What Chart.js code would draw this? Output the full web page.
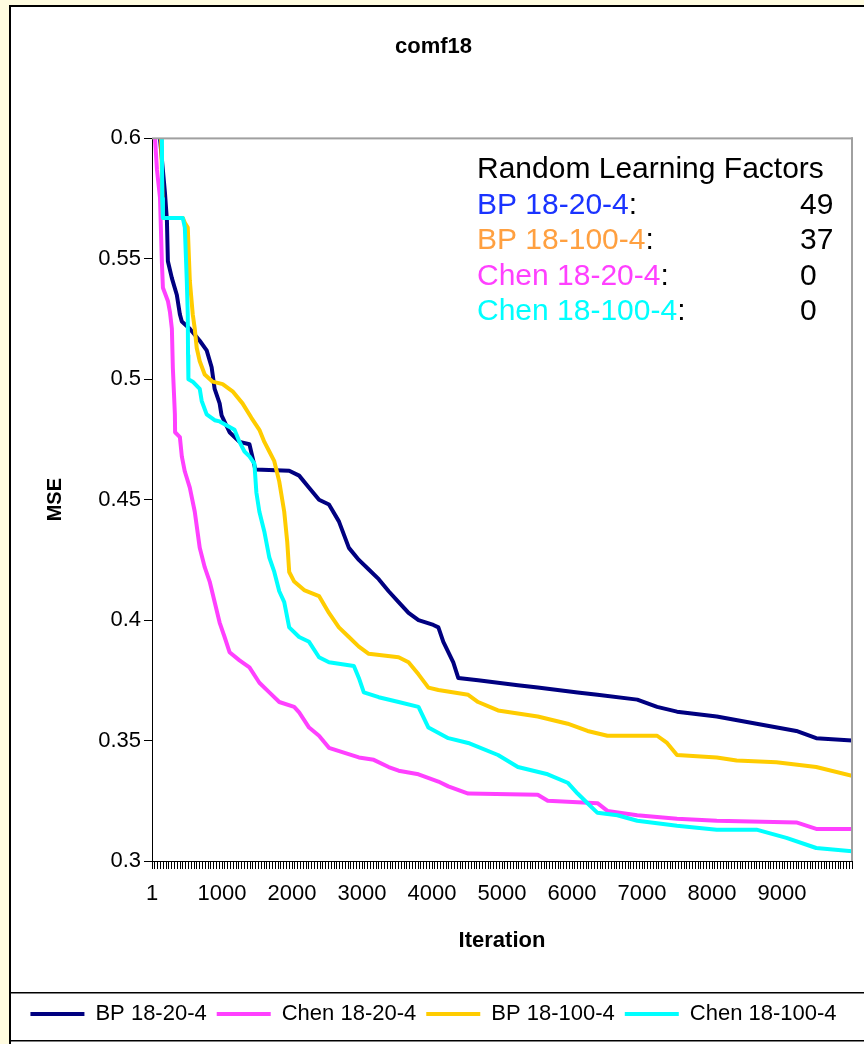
<!DOCTYPE html>
<html><head><meta charset="utf-8">
<script src="https://cdn.jsdelivr.net/npm/chart.js@4.4.1/dist/chart.umd.min.js"></script>
<style>html,body{margin:0;padding:0;background:#FFFCE0;}canvas{display:block;}</style>
</head><body>
<canvas id="c" width="864" height="1044"></canvas>
<script>
const chartTitle = 'comf18';
const xTitle = 'Iteration';
const yTitle = 'MSE';
const seriesNames = ['BP 18-20-4', 'Chen 18-20-4', 'BP 18-100-4', 'Chen 18-100-4'];
const seriesColors = ['#000080', '#FF40FF', '#FFCC00', '#00FFFF'];

const bp20Iter = [1, 114, 185, 213, 227, 284, 355, 398, 426, 540, 682, 781, 852, 895, 966, 994, 1108, 1250, 1392, 1477, 1960, 2102, 2244, 2386, 2528, 2670, 2813, 2955, 3097, 3239, 3381, 3523, 3665, 3807, 4020, 4091, 4162, 4304, 4375, 4659, 5227, 5511, 6080, 6364, 6932, 7216, 7500, 8068, 8636, 9205, 9489, 10000];
const bp20Mse  = [0.66, 0.600, 0.5775, 0.566, 0.549, 0.542, 0.535, 0.527, 0.524, 0.521, 0.516, 0.512, 0.505, 0.496, 0.490, 0.485, 0.478, 0.474, 0.473, 0.4625, 0.462, 0.460, 0.455, 0.450, 0.448, 0.441, 0.430, 0.425, 0.421, 0.417, 0.412, 0.4075, 0.403, 0.400, 0.398, 0.397, 0.391, 0.3825, 0.376, 0.375, 0.373, 0.372, 0.370, 0.369, 0.367, 0.364, 0.362, 0.360, 0.357, 0.354, 0.351, 0.350];

const chen20Iter = [1, 43, 71, 114, 142, 156, 227, 256, 284, 298, 327, 330, 398, 426, 469, 540, 611, 682, 753, 824, 895, 966, 1037, 1108, 1250, 1392, 1534, 1676, 1818, 2031, 2102, 2244, 2386, 2528, 2741, 2955, 3168, 3381, 3523, 3807, 4091, 4233, 4517, 5511, 5653, 6364, 6506, 6932, 7500, 8068, 9205, 9489, 10000];
const chen20Mse  = [0.64, 0.600, 0.587, 0.5754, 0.548, 0.538, 0.5325, 0.528, 0.521, 0.5046, 0.4854, 0.478, 0.476, 0.468, 0.4617, 0.455, 0.445, 0.430, 0.422, 0.416, 0.4075, 0.399, 0.393, 0.3867, 0.3833, 0.3804, 0.374, 0.370, 0.366, 0.364, 0.3617, 0.3554, 0.352, 0.347, 0.345, 0.343, 0.342, 0.339, 0.3375, 0.336, 0.333, 0.331, 0.328, 0.3275, 0.325, 0.324, 0.3208, 0.319, 0.3175, 0.3167, 0.316, 0.3133, 0.3133];

const bp100Iter = [1, 130, 156, 440, 469, 511, 540, 582, 611, 639, 682, 753, 866, 1009, 1151, 1293, 1420, 1534, 1605, 1676, 1747, 1818, 1889, 1932, 1960, 2031, 2173, 2386, 2528, 2670, 2813, 2955, 3097, 3523, 3665, 3807, 3949, 4091, 4517, 4659, 4943, 5511, 5938, 6222, 6506, 7216, 7358, 7500, 8068, 8352, 8920, 9489, 10000];
const bp100Mse  = [0.66, 0.600, 0.567, 0.567, 0.565, 0.563, 0.541, 0.527, 0.521, 0.513, 0.5075, 0.502, 0.499, 0.498, 0.495, 0.490, 0.484, 0.479, 0.474, 0.470, 0.466, 0.4575, 0.445, 0.4325, 0.420, 0.416, 0.4125, 0.410, 0.403, 0.397, 0.393, 0.389, 0.386, 0.3846, 0.3825, 0.3775, 0.372, 0.371, 0.369, 0.366, 0.3625, 0.360, 0.357, 0.354, 0.352, 0.352, 0.349, 0.344, 0.343, 0.3417, 0.341, 0.339, 0.3354];

const chen100Iter = [1, 142, 146, 156, 440, 469, 497, 511, 515, 520, 582, 682, 710, 781, 895, 966, 1179, 1250, 1321, 1392, 1463, 1491, 1534, 1605, 1676, 1747, 1818, 1889, 1960, 2102, 2244, 2386, 2528, 2884, 2955, 3026, 3239, 3523, 3807, 3949, 4233, 4517, 4943, 5227, 5653, 5938, 6080, 6222, 6364, 6648, 6932, 7500, 8068, 8636, 9063, 9489, 10000];
const chen100Mse  = [0.66, 0.600, 0.575, 0.567, 0.567, 0.563, 0.541, 0.527, 0.510, 0.500, 0.499, 0.496, 0.491, 0.4854, 0.483, 0.4825, 0.479, 0.474, 0.470, 0.468, 0.465, 0.453, 0.445, 0.4367, 0.426, 0.420, 0.412, 0.4075, 0.397, 0.393, 0.391, 0.3846, 0.3825, 0.381, 0.376, 0.370, 0.368, 0.366, 0.364, 0.3554, 0.351, 0.349, 0.344, 0.339, 0.336, 0.3325, 0.328, 0.324, 0.320, 0.319, 0.3167, 0.3146, 0.313, 0.313, 0.3096, 0.3054, 0.304];

const xMin = 0, xMax = 10000, xTickStep = 40;
const xLabelValues = [0, 1000, 2000, 3000, 4000, 5000, 6000, 7000, 8000, 9000];
const xLabelTexts  = ['1', '1000', '2000', '3000', '4000', '5000', '6000', '7000', '8000', '9000'];
const yMin = 0.3, yMax = 0.6, yStep = 0.05;

const factorTitle = 'Random Learning Factors';
const factorNames = ['BP 18-20-4', 'BP 18-100-4', 'Chen 18-20-4', 'Chen 18-100-4'];
const factorValues = ['49', '37', '0', '0'];
const factorColors = ['#1A33FF', '#FFA040', '#FF40FF', '#00FFFF'];

const FONT = "'Liberation Sans', Arial, Helvetica, sans-serif";
Chart.defaults.font.family = FONT;
Chart.defaults.color = '#000';

const seriesIters = [bp20Iter, chen20Iter, bp100Iter, chen100Iter];
const seriesMses = [bp20Mse, chen20Mse, bp100Mse, chen100Mse];

const framePlugin = {
  id: 'frame',
  beforeDraw(chart) {
    const c = chart.ctx, w = chart.width, h = chart.height;
    c.save();
    c.fillStyle = '#FFFCE0';
    c.fillRect(0, 0, w, h);
    c.fillStyle = '#FFFFFF';
    c.fillRect(10, 6, w - 10, h - 6);
    c.fillStyle = '#000';
    c.fillRect(9, 5, w - 9, 2);
    c.fillRect(9, 5, 2, h - 5);
    c.fillRect(9, 992, w - 9, 1.5);
    c.fillRect(9, 1040, w - 9, 1.5);
    c.restore();
  },
  afterDatasetsDraw(chart) {
    const c = chart.ctx, a = chart.chartArea;
    c.save();
    c.fillStyle = '#A0A0A0';
    c.fillRect(a.left, a.top - 1, a.right - a.left + 1, 2);
    c.fillRect(a.right - 1, a.top - 1, 2, a.bottom - a.top + 1);
    c.restore();
  }
};

const factorPlugin = {
  id: 'factors',
  afterDraw(chart) {
    const c = chart.ctx, a = chart.chartArea;
    c.save();
    c.font = '30px ' + FONT;
    c.textBaseline = 'middle';
    c.textAlign = 'left';
    const x0 = a.left + 325, xv = a.left + 648;
    c.fillStyle = '#000';
    c.fillText(factorTitle, x0, a.top + 31);
    factorNames.forEach((n, i) => {
      const y = a.top + 67 + i * 35.5;
      c.fillStyle = factorColors[i];
      c.fillText(n, x0, y);
      const wd = c.measureText(n).width;
      c.fillStyle = '#000';
      c.fillText(':', x0 + wd, y);
      c.fillText(factorValues[i], xv, y);
    });
    c.restore();
  }
};

new Chart(document.getElementById('c'), {
  type: 'line',
  data: {
    datasets: seriesNames.map((name, i) => ({
      label: name,
      data: seriesIters[i].map((x, j) => ({ x: x, y: seriesMses[i][j] })),
      borderColor: seriesColors[i],
      backgroundColor: seriesColors[i],
      borderWidth: 4,
      borderCapStyle: 'round',
      borderJoinStyle: 'round',
      pointRadius: 0,
      tension: 0,
      clip: 0,
      order: 4 - i
    }))
  },
  options: {
    responsive: false,
    animation: false,
    layout: { padding: { left: 10, right: 7, top: 6, bottom: 9 } },
    plugins: {
      title: { display: true, text: chartTitle, font: { size: 22, weight: 'bold' }, color: '#000', padding: { top: 28, bottom: 78 } },
      legend: {
        position: 'bottom',
        labels: {
          usePointStyle: true, pointStyle: 'line', pointStyleWidth: 54,
          font: { size: 22 }, padding: 10, color: '#000',
          sort: (a, b) => a.datasetIndex - b.datasetIndex
        }
      },
      tooltip: { enabled: false }
    },
    scales: {
      x: {
        type: 'linear', min: xMin, max: xMax,
        afterFit: s => { s.height = 132; },
        ticks: {
          stepSize: xTickStep, autoSkip: false, maxRotation: 0, minRotation: 0,
          font: { size: 22 }, padding: 12, color: '#000',
          callback: v => { const k = xLabelValues.indexOf(v); return k >= 0 ? xLabelTexts[k] : ''; }
        },
        grid: { drawOnChartArea: false, drawTicks: true, tickLength: 8, color: '#000', tickColor: '#000', lineWidth: 1 },
        border: { display: true, color: '#000', width: 1 },
        title: { display: true, text: xTitle, font: { size: 22, weight: 'bold' }, color: '#000', padding: { top: 0, bottom: 39 } }
      },
      y: {
        min: yMin, max: yMax,
        afterFit: s => { s.width = 142; },
        ticks: {
          stepSize: yStep, font: { size: 22 }, padding: 3, color: '#000',
          callback: v => String(Number(v.toFixed(2)))
        },
        grid: { drawOnChartArea: false, drawTicks: true, tickLength: 8, color: '#000', tickColor: '#000' },
        border: { display: true, color: '#000', width: 1 },
        title: { display: true, text: yTitle, font: { size: 20, weight: 'bold' }, color: '#000', padding: { top: 33, bottom: 0 } }
      }
    }
  },
  plugins: [framePlugin, factorPlugin]
});
</script>
</body></html>
